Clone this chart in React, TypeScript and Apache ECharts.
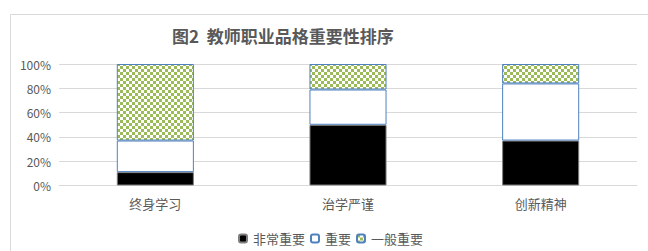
import React, { useEffect, useRef } from "react";
import * as echarts from "echarts";

const categories = ["终身学习", "治学严谨", "创新精神"];
const veryImportant = [11, 50, 37];
const important = [26, 29, 47];
const generallyImportant = [63, 21, 16];
const yTicks = [0, 20, 40, 60, 80, 100];

function makeChecker(): string {
  const c = document.createElement("canvas");
  c.width = 6;
  c.height = 6;
  const ctx = c.getContext("2d")!;
  ctx.fillStyle = "#ffffff";
  ctx.fillRect(0, 0, 6, 6);
  ctx.fillStyle = "#9BBB59";
  ctx.fillRect(0, 0, 3, 3);
  ctx.fillRect(3, 3, 3, 3);
  return c.toDataURL();
}

export default function App() {
  const ref = useRef<HTMLDivElement>(null);
  useEffect(() => {
    const chart = echarts.init(ref.current!, null, { renderer: "svg" });
    const checker = makeChecker();
    const font = "'Noto Sans CJK SC', 'Noto Sans', sans-serif";
    chart.setOption({
      animation: false,
      backgroundColor: "#ffffff",
      title: {
        text: "图2  教师职业品格重要性排序",
        left: 167,
        top: 22,
        textStyle: { fontFamily: font, fontSize: 17, fontWeight: "bold", color: "#595959" },
      },
      graphic: [
        {
          type: "rect",
          left: 8,
          top: 12,
          shape: { width: 700, height: 400 },
          style: { fill: "none", stroke: "#d9d9d9", lineWidth: 1 },
          silent: true,
          z: -1,
        },
      ],
      grid: { left: 59, right: 11, top: 64, bottom: 65.5 },
      legend: {
        top: 227,
        left: 233,
        itemWidth: 8,
        itemHeight: 8,
        itemGap: 5,
        textStyle: { fontFamily: font, fontSize: 13, color: "#595959", padding: [0, 0, 0, 1] },
        data: ["非常重要", "重要", "一般重要"],
      },
      xAxis: {
        type: "category",
        data: categories,
        axisLine: { show: true, lineStyle: { color: "#d9d9d9", width: 1 } },
        axisTick: { show: false },
        axisLabel: { fontFamily: font, fontSize: 13, color: "#595959", margin: 11 },
      },
      yAxis: {
        type: "value",
        min: yTicks[0],
        max: yTicks[yTicks.length - 1],
        interval: 20,
        axisLine: { show: false },
        axisTick: { show: false },
        splitLine: { lineStyle: { color: "#d9d9d9", width: 1 } },
        axisLabel: {
          formatter: "{value}%",
          fontFamily: font,
          fontSize: 12,
          color: "#595959",
          margin: 8,
        },
      },
      series: [
        {
          name: "非常重要",
          type: "bar",
          stack: "total",
          barWidth: "40%",
          data: veryImportant,
          itemStyle: { color: "#000000", borderColor: "#7f7f7f", borderWidth: 1 },
        },
        {
          name: "重要",
          type: "bar",
          stack: "total",
          barWidth: "40%",
          data: important,
          itemStyle: { color: "#ffffff", borderColor: "#4F81BD", borderWidth: 1 },
        },
        {
          name: "一般重要",
          type: "bar",
          stack: "total",
          barWidth: "40%",
          data: generallyImportant,
          itemStyle: {
            color: { image: checker, repeat: "repeat" },
            borderColor: "#4F81BD",
            borderWidth: 1,
          },
        },
      ],
    });
    return () => chart.dispose();
  }, []);
  return <div ref={ref} style={{ width: 648, height: 251, position: "absolute", left: 0, top: 0 }} />;
}
